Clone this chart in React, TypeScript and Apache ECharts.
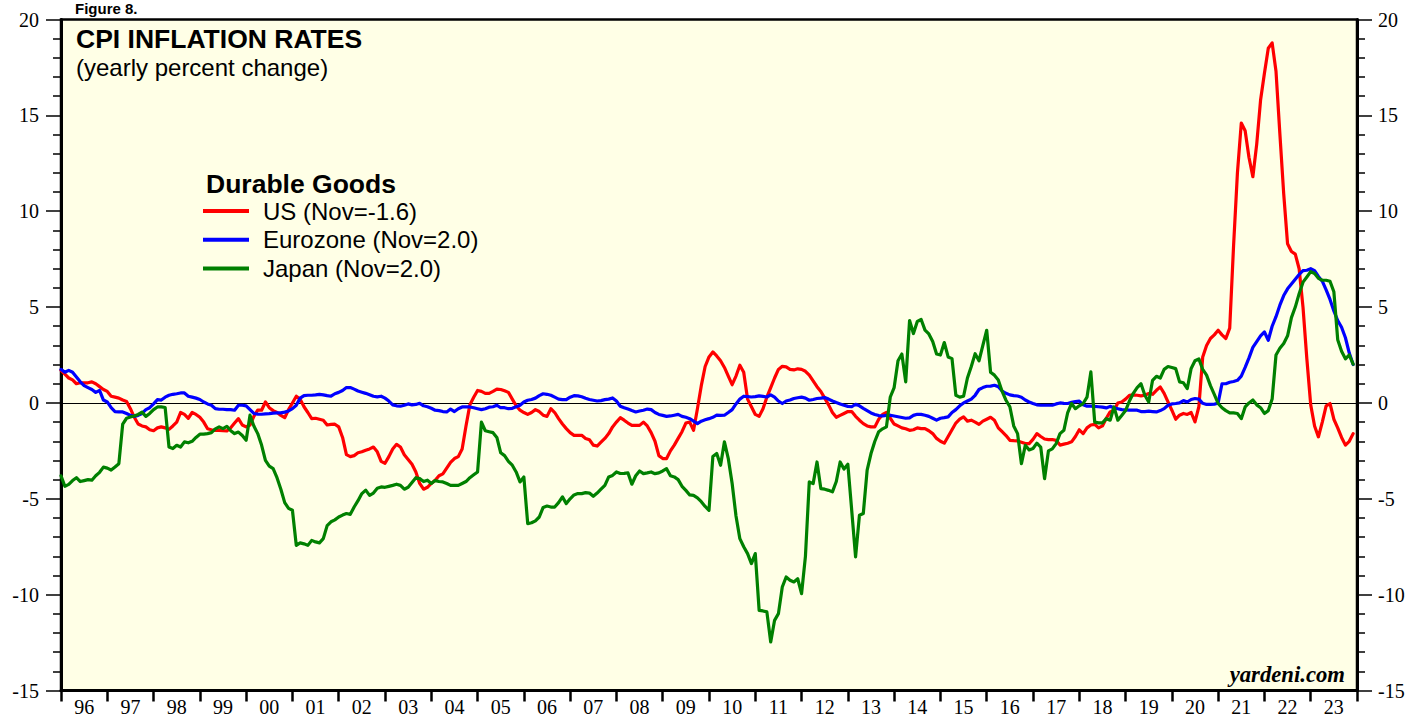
import React, { useEffect, useRef } from 'react';
import * as echarts from 'echarts';

// Year tick labels (one category per calendar year)
const yearLabels = ['96','97','98','99','00','01','02','03','04','05','06','07','08','09','10','11','12','13','14','15','16','17','18','19','20','21','22','23'];

// Monthly yearly-percent-change values, one per month (index 0 = start of 1996 ... last = Nov 2023)
const usValues = [
  1.7, 1.5, 1.3, 1.2, 1.0, 1.05, 1.05, 1.05, 1.1, 1.0, 0.85, 0.7,
  0.6, 0.35, 0.3, 0.25, 0.15, 0.08, -0.3, -0.75, -1.1, -1.2, -1.25, -1.4,
  -1.45, -1.3, -1.25, -1.3, -1.38, -1.2, -1.0, -0.5, -0.6, -0.8, -0.5, -0.6,
  -0.75, -1.0, -1.35, -1.4, -1.43, -1.43, -1.45, -1.46, -1.3, -1.05, -0.82, -1.15,
  -1.25, -1.15, -0.7, -0.38, -0.38, 0.05, -0.25, -0.4, -0.5, -0.65, -0.77, -0.35,
  0.0, 0.35, 0.2, -0.2, -0.5, -0.82, -0.8, -0.85, -0.9, -1.15, -1.12, -1.11,
  -1.25, -1.8, -2.7, -2.8, -2.75, -2.6, -2.55, -2.47, -2.4, -2.3, -2.55, -3.05,
  -3.15, -2.8, -2.4, -2.16, -2.3, -2.7, -2.95, -3.2, -3.6, -4.2, -4.5, -4.4,
  -4.2, -4.03, -3.8, -3.7, -3.4, -3.1, -2.9, -2.8, -2.4, -1.2, -0.1, 0.3,
  0.65, 0.6, 0.5, 0.5, 0.6, 0.72, 0.7, 0.63, 0.55, 0.2, -0.15, -0.38,
  -0.5, -0.6, -0.5, -0.35, -0.45, -0.64, -0.7, -0.3, -0.5, -0.82, -1.1, -1.34,
  -1.55, -1.69, -1.69, -1.69, -1.85, -1.92, -2.2, -2.25, -2.05, -1.85, -1.6, -1.25,
  -1.0, -0.77, -0.9, -1.05, -1.17, -1.17, -1.17, -1.0, -1.2, -1.55, -2.0, -2.75,
  -2.9, -2.9, -2.5, -2.2, -1.85, -1.5, -1.05, -1.0, -1.43, -0.3, 0.9, 1.9,
  2.4, 2.66, 2.45, 2.2, 1.85, 1.4, 0.95, 1.4, 1.97, 1.6, 0.2, -0.2,
  -0.6, -0.7, -0.3, 0.3, 0.8, 1.3, 1.75, 1.91, 1.88, 1.75, 1.72, 1.78,
  1.75, 1.65, 1.45, 1.15, 0.85, 0.6, 0.25, -0.1, -0.5, -0.75, -0.65, -0.55,
  -0.45, -0.45, -0.7, -0.9, -1.08, -1.2, -1.25, -1.25, -0.85, -0.6, -0.5, -0.8,
  -1.1, -1.2, -1.3, -1.35, -1.43, -1.4, -1.3, -1.34, -1.34, -1.45, -1.6, -1.85,
  -2.0, -2.1, -1.75, -1.4, -1.05, -0.85, -0.73, -0.95, -0.9, -1.0, -1.12, -0.95,
  -0.85, -0.75, -0.9, -1.3, -1.5, -1.7, -1.95, -1.97, -1.98, -2.05, -2.12, -2.12,
  -1.9, -1.6, -1.75, -1.88, -1.91, -1.91, -1.95, -2.2, -2.15, -2.1, -2.03, -1.75,
  -1.4, -1.6, -1.3, -1.15, -1.12, -1.3, -1.2, -0.8, -0.47, -0.38, 0.0, 0.05,
  0.2, 0.4, 0.42, 0.4, 0.37, 0.4, 0.49, 0.45, 0.66, 0.83, 0.5, 0.05,
  -0.38, -0.85, -0.64, -0.55, -0.6, -0.5, -0.99, -0.2, 2.4, 3.0, 3.36, 3.55,
  3.79, 3.55, 3.36, 3.9, 8.2, 12.0, 14.6, 14.2, 12.8, 11.8, 13.5, 15.8,
  17.2, 18.5, 18.78, 17.3, 14.05, 10.9, 8.3, 7.9, 7.76, 7.0, 5.0, 2.3,
  -0.1, -1.2, -1.77, -1.0, -0.15, -0.03, -0.85, -1.3, -1.8, -2.2, -2.0, -1.6
];

const euroValues = [
  1.75, 1.6, 1.7, 1.6, 1.35, 1.1, 0.9, 0.8, 0.7, 0.55, 0.65, 0.15,
  0.05, -0.25, -0.45, -0.47, -0.47, -0.55, -0.65, -0.7, -0.65, -0.55, -0.35, -0.25,
  -0.05, 0.17, 0.15, 0.3, 0.4, 0.45, 0.48, 0.52, 0.52, 0.35, 0.3, 0.25,
  0.18, 0.05, -0.05, -0.12, -0.3, -0.33, -0.33, -0.35, -0.35, -0.38, -0.12, -0.12,
  -0.15, -0.35, -0.55, -0.58, -0.59, -0.57, -0.56, -0.53, -0.52, -0.52, -0.48, -0.42,
  -0.3, -0.12, 0.25, 0.38, 0.4, 0.4, 0.42, 0.45, 0.42, 0.38, 0.35, 0.48,
  0.55, 0.65, 0.8, 0.8, 0.72, 0.62, 0.56, 0.5, 0.43, 0.35, 0.32, 0.35,
  0.25, 0.1, -0.1, -0.15, -0.17, -0.12, -0.05, -0.1, -0.08, -0.02, -0.15, -0.2,
  -0.28, -0.38, -0.4, -0.45, -0.47, -0.32, -0.45, -0.3, -0.21, -0.2, -0.21, -0.25,
  -0.3, -0.35, -0.3, -0.22, -0.2, -0.12, -0.25, -0.25, -0.3, -0.28, -0.2, -0.12,
  0.05, 0.14, 0.18, 0.25, 0.38, 0.48, 0.45, 0.4, 0.3, 0.2, 0.17, 0.17,
  0.3, 0.38, 0.37, 0.32, 0.24, 0.18, 0.14, 0.1, 0.12, 0.17, 0.2, 0.26,
  0.1, -0.17, -0.25, -0.32, -0.4, -0.47, -0.42, -0.38, -0.32, -0.35, -0.5, -0.6,
  -0.65, -0.7, -0.68, -0.64, -0.6, -0.7, -0.75, -0.82, -0.95, -1.08, -0.95, -0.88,
  -0.82, -0.75, -0.64, -0.65, -0.64, -0.5, -0.35, -0.05, 0.2, 0.35, 0.33, 0.31,
  0.33, 0.37, 0.34, 0.31, 0.42, 0.3, 0.1, -0.03, 0.1, 0.15, 0.23, 0.27,
  0.3, 0.25, 0.14, 0.18, 0.23, 0.25, 0.28, 0.2, 0.1, 0.02, -0.05, -0.12,
  -0.18, -0.2, -0.07, -0.15, -0.28, -0.4, -0.52, -0.6, -0.66, -0.68, -0.65, -0.64,
  -0.68, -0.72, -0.76, -0.8, -0.78, -0.65, -0.59, -0.6, -0.64, -0.7, -0.8, -0.9,
  -0.8, -0.77, -0.73, -0.5, -0.35, -0.15, 0.0, 0.1, 0.2, 0.4, 0.7, 0.8,
  0.87, 0.88, 0.92, 0.85, 0.62, 0.5, 0.42, 0.38, 0.36, 0.3, 0.15, 0.05,
  -0.03, -0.1, -0.12, -0.12, -0.12, -0.12, -0.05, 0.0, -0.02, -0.03, 0.03, 0.07,
  0.1, -0.1, -0.17, -0.17, -0.18, -0.2, -0.22, -0.26, -0.18, -0.25, -0.3, -0.35,
  -0.36, -0.38, -0.38, -0.38, -0.45, -0.45, -0.43, -0.45, -0.47, -0.4, -0.3, -0.12,
  -0.05, -0.03, 0.0, 0.12, 0.05, 0.18, 0.23, 0.2, -0.02, -0.08, -0.08, -0.07,
  0.0, 1.0, 1.0, 1.08, 1.12, 1.18, 1.4, 1.85, 2.35, 2.9, 3.2, 3.5,
  3.7, 3.27, 4.0, 4.5, 5.1, 5.6, 5.95, 6.2, 6.45, 6.7, 6.9, 6.92,
  7.0, 6.9, 6.6, 6.35, 5.9, 5.4, 4.8, 4.3, 3.95, 3.4, 2.6, 2.0
];

const japanValues = [
  -3.8, -4.35, -4.25, -4.05, -3.9, -4.1, -4.05, -4.0, -4.03, -3.8, -3.62, -3.35,
  -3.4, -3.5, -3.34, -3.17, -1.1, -0.8, -0.73, -0.68, -0.6, -0.48, -0.7, -0.55,
  -0.35, -0.21, -0.21, -0.24, -2.3, -2.38, -2.21, -2.3, -2.03, -2.08, -2.0, -1.8,
  -1.63, -1.63, -1.6, -1.55, -1.35, -1.25, -1.34, -1.22, -1.45, -1.6, -1.52, -1.7,
  -1.95, -0.64, -1.2, -1.6, -2.2, -3.0, -3.3, -3.43, -3.9, -4.5, -5.2, -5.5,
  -5.6, -7.43, -7.3, -7.35, -7.43, -7.17, -7.25, -7.3, -7.08, -6.4, -6.2, -6.1,
  -5.95, -5.85, -5.77, -5.81, -5.43, -5.1, -4.73, -4.55, -4.82, -4.7, -4.45, -4.38,
  -4.4, -4.35, -4.3, -4.24, -4.3, -4.5, -4.4, -4.15, -3.9, -3.95, -4.1, -4.03,
  -4.2, -4.05, -4.1, -4.12, -4.2, -4.3, -4.3, -4.3, -4.2, -4.1, -3.9, -3.75,
  -3.6, -1.0, -1.45, -1.5, -1.55, -1.8, -2.6, -2.75, -3.05, -3.25, -3.6, -4.12,
  -3.86, -6.3, -6.25, -6.15, -5.95, -5.45, -5.38, -5.43, -5.43, -5.2, -4.9, -5.25,
  -5.0, -4.8, -4.73, -4.73, -4.68, -4.7, -4.87, -4.7, -4.5, -4.3, -3.86, -3.78,
  -3.6, -3.68, -3.67, -3.65, -4.24, -3.8, -3.55, -3.69, -3.65, -3.6, -3.69, -3.65,
  -3.55, -3.43, -3.8, -3.86, -4.0, -4.35, -4.56, -4.8, -4.82, -4.95, -5.15, -5.4,
  -5.6, -2.8, -2.64, -3.25, -2.03, -2.9, -4.2, -5.9, -7.08, -7.5, -7.86, -8.38,
  -7.86, -10.82, -10.85, -10.9, -12.47, -11.34, -10.99, -9.6, -9.08, -9.25, -9.34, -9.17,
  -9.95, -8.0, -4.12, -4.21, -3.08, -4.47, -4.5, -4.56, -4.64, -4.1, -3.08, -3.45,
  -3.2, -5.6, -8.03, -5.86, -5.77, -3.51, -2.64, -2.0, -1.5, -1.35, -1.25, 0.31,
  0.8, 2.2, 2.55, 1.1, 4.3, 3.62, 4.25, 4.35, 3.8, 3.6, 3.2, 2.55,
  2.5, 3.15, 2.4, 2.31, 0.4, 0.3, 0.35, 1.3, 1.9, 2.57, 2.2, 3.0,
  3.79, 1.6, 1.45, 1.2, 0.6, 0.14, -0.2, -1.2, -1.6, -3.17, -2.21, -2.45,
  -2.38, -2.1, -2.3, -3.95, -2.5, -2.4, -2.12, -1.6, -1.43, -0.5, -0.03, -0.3,
  -0.15, -0.03, 0.3, 1.62, -1.0, -1.04, -1.04, -0.82, -0.9, -0.21, -0.9, -0.65,
  -0.4, 0.1, 0.5, 0.8, 1.0, 0.4, 0.05, 1.18, 1.39, 1.3, 1.75, 1.9,
  1.85, 1.79, 1.1, 1.05, 0.75, 1.8, 2.2, 2.3, 1.75, 1.45, 0.9, 0.45,
  -0.03, -0.25, -0.4, -0.52, -0.52, -0.55, -0.82, -0.21, 0.0, 0.15, -0.1, -0.25,
  -0.55, -0.4, 0.2, 2.5, 2.85, 3.1, 3.5, 4.45, 5.0, 5.7, 6.3, 6.57,
  6.85, 6.75, 6.5, 6.4, 6.4, 6.35, 5.8, 3.3, 2.7, 2.3, 2.5, 2.02
];

const seriesNames = ['US', 'Eurozone', 'Japan'];
const legendLabels: Record<string, string> = {
  US: 'US (Nov=-1.6)',
  Eurozone: 'Eurozone (Nov=2.0)',
  Japan: 'Japan (Nov=2.0)',
};
const seriesColors = ['#ff0000', '#0000ff', '#008000'];
const seriesValues = [usValues, euroValues, japanValues];

const yMin = -15;
const yMax = 20;
const yInterval = 5;

const SANS = '"Liberation Sans", Arial, sans-serif';
const SERIF = '"Liberation Serif", "Times New Roman", serif';

function textEl(text: string, x: number, y: number, font: string, align = 'left') {
  return {
    type: 'text',
    x,
    y,
    silent: true,
    style: {
      text,
      font,
      fill: '#000',
      align,
      verticalAlign: 'top',
      textAlign: align,
      textVerticalAlign: 'top',
    },
  };
}

function makeYAxis(position: 'left' | 'right', margin: number) {
  return {
    type: 'value',
    position,
    min: yMin,
    max: yMax,
    interval: yInterval,
    axisLine: { show: true, onZero: false, lineStyle: { color: '#000', width: 3 } },
    axisTick: { show: true, inside: false, length: 15, lineStyle: { color: '#000', width: 1.5 } },
    minorTick: { show: true, splitNumber: 5, length: 8, lineStyle: { color: '#000', width: 1.5 } },
    axisLabel: { color: '#000', fontFamily: SERIF, fontSize: 20, margin },
    splitLine: { show: false },
    minorSplitLine: { show: false },
  };
}

export default function App() {
  const ref = useRef<HTMLDivElement>(null);

  useEffect(() => {
    if (!ref.current) return;
    const chart = echarts.init(ref.current, undefined, { renderer: 'svg' });
    const nPoints = usValues.length;

    const option: any = {
      animation: false,
      backgroundColor: '#ffffff',
      grid: {
        left: 61,
        top: 19.5,
        width: 1296,
        height: 671,
        show: true,
        containLabel: false,
        outerBoundsMode: 'none',
        backgroundColor: '#ffffe6',
        borderColor: '#000',
        borderWidth: 2.5,
      },
      xAxis: [
        { type: 'value', min: 0, max: nPoints, show: false },
        {
          type: 'category',
          data: yearLabels,
          position: 'bottom',
          boundaryGap: true,
          axisLine: { show: true, onZero: false, lineStyle: { color: '#000', width: 3 } },
          axisTick: { show: true, interval: 0, alignWithLabel: false, length: 11, lineStyle: { color: '#000', width: 2.5 } },
          axisLabel: { color: '#000', fontFamily: SERIF, fontSize: 20, lineHeight: 16, margin: 8, interval: 0 },
          splitLine: { show: false },
        },
      ],
      yAxis: [makeYAxis('left', 22), makeYAxis('right', 21)],
      legend: {
        data: seriesNames,
        orient: 'vertical',
        left: 203,
        top: 199,
        padding: 0,
        itemWidth: 46,
        itemHeight: 4,
        itemGap: 4.7,
        icon: 'rect',
        selectedMode: false,
        formatter: (name: string) => legendLabels[name],
        textStyle: { color: '#000', fontFamily: SANS, fontSize: 24, lineHeight: 24, padding: [0, 0, 0, 9] },
      },
      graphic: [
        textEl('Figure 8.', 75, 1, `bold 15px ${SANS}`),
        textEl('CPI INFLATION RATES', 76, 25.8, `bold 26.5px ${SANS}`),
        textEl('(yearly percent change)', 76, 55.2, `24px ${SANS}`),
        textEl('Durable Goods', 206, 170.3, `bold 26.5px ${SANS}`),
        textEl('yardeni.com', 1345, 662.7, `italic bold 22.7px ${SERIF}`, 'right'),
      ],
      series: seriesNames.map((name, si) => ({
        name,
        type: 'line',
        xAxisIndex: 0,
        yAxisIndex: 0,
        data: seriesValues[si].map((v, i) => [i, v]),
        showSymbol: false,
        symbol: 'none',
        silent: true,
        z: 3,
        color: seriesColors[si],
        itemStyle: { color: seriesColors[si] },
        lineStyle: { color: seriesColors[si], width: 3.2, join: 'round', cap: 'round' },
        emphasis: { disabled: true },
        markLine: si === 0 ? {
          silent: true,
          symbol: ['none', 'none'],
          label: { show: false },
          lineStyle: { color: '#000', width: 1, type: 'solid' },
          data: [{ yAxis: 0 }],
          z: 1,
        } : undefined,
      })),
    };

    chart.setOption(option);
    return () => chart.dispose();
  }, []);

  return (
    <div
      ref={ref}
      style={{ position: 'fixed', left: 0, top: 0, width: 1409, height: 719, background: '#fff' }}
    />
  );
}
